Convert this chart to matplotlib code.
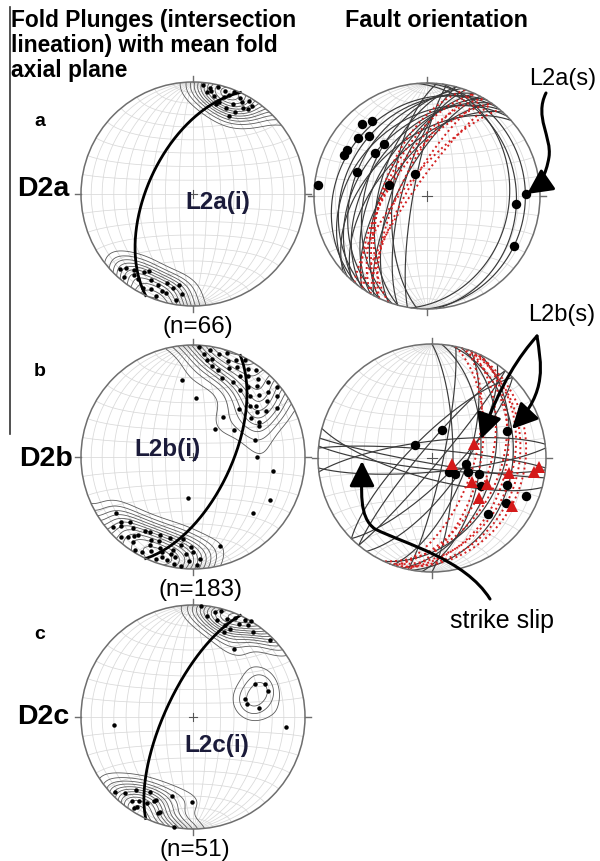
import numpy as np
import matplotlib.pyplot as plt
from matplotlib.patches import Circle, FancyArrowPatch
from matplotlib.path import Path

plt.rcParams['font.family'] = ['Liberation Sans', 'DejaVu Sans']

# ---------------- data ----------------
# lineations: (trend, plunge) in degrees ; planes: (strike, dip) right-hand rule
d2a_trend = [5, 9, 13, 17, 20, 22, 26, 28, 31, 34, 12, 16, 14, 21, 24, 27, 30, 33, 18, 8, 25, 10,
             224, 220, 216, 213, 212, 208, 204, 201, 198, 195, 192, 189, 189, 206, 210, 218, 200, 196, 186, 222]
d2a_plunge = [3, 5, 2, 4, 7, 2, 5, 8, 3, 6, 12, 16, 18, 19, 13, 19, 12, 10, 10, 9, 24, 7,
              7, 4, 12, 10, 19, 6, 8, 14, 10, 9, 15, 5, 19, 16, 22, 15, 3, 18, 11, 12]
d2a_axial = (205, 57)

d2b_trend = [3, 6, 9, 11, 14, 16, 18, 20, 22, 24, 26, 28, 30, 32, 34, 36, 38, 40, 42, 43, 45, 47, 49, 51,
             53, 55, 58, 60, 62, 65, 44, 48, 56, 35, 28, 20, 12, 8, 50, 54,
             352, 3, 37, 38, 57, 75, 90, 100, 119, 133, 187, 163,
             234, 229, 226, 222, 220, 217, 215, 213, 210, 208, 206, 204, 202, 200, 198, 196, 194, 192, 190,
             188, 187, 186, 184, 182, 180, 178, 176, 212, 219, 224, 200, 193, 207, 215, 228, 181, 197, 203, 190]
d2b_plunge = [2, 8, 4, 12, 6, 20, 3, 10, 15, 6, 12, 2, 18, 8, 14, 4, 22, 10, 16, 26, 6, 20, 12, 28,
              18, 31, 24, 14, 34, 35, 40, 32, 38, 28, 25, 26, 18, 14, 3, 8,
              31, 46, 53, 64, 54, 42, 42, 28, 22, 28, 60, 18,
              16, 6, 12, 4, 18, 13, 8, 22, 24, 4, 14, 9, 20, 3, 12, 26, 6, 16, 10,
              22, 27, 2, 14, 8, 16, 4, 10, 2, 9, 20, 15, 12, 18, 16, 15, 21, 7, 25, 3]
d2b_axial = (25, 62)

d2c_trend = [4, 8, 12, 15, 19, 19, 23, 23, 26, 28, 31, 31, 35, 45, 31, 14, 20,
             62, 65, 71, 71, 76, 82, 264, 96,
             222, 226, 213, 213, 216, 210, 208, 205, 200, 199, 195, 181, 190, 204, 218, 212]
d2c_plunge = [1, 10, 5, 2, 14, 8, 16, 4, 8, 2, 5, 0, 8, 3, 30, 12, 20,
              37, 30, 30, 49, 49, 40, 30, 18,
              10, 4, 3, 12, 8, 24, 14, 18, 10, 11, 28, 25, 0, 20, 18, 6]
d2c_axial = (205, 70)

# fault planes, D2a
fa_strike = [190, 195, 200, 205, 210, 215, 220, 225, 212, 218, 205, 198, 208, 215, 222, 195, 185, 228,
             0, 355, 8]
fa_dip = [80, 72, 65, 58, 52, 46, 40, 34, 28, 22, 35, 45, 70, 62, 55, 55, 65, 48,
          14, 22, 28]
fa_red_strike = [200, 205, 210, 215, 210, 215, 220, 205]
fa_red_dip = [58, 60, 62, 64, 76, 80, 74, 70]
la_trend = [318, 324, 310, 316, 300, 296, 310, 320, 289, 331, 286, 276, 89, 95, 120]
la_plunge = [15, 19, 21, 27, 19, 19, 40, 40, 35, 72, 61, 3, 13, 22, 12]

# fault planes, D2b
fb_strike = [96, 100, 85, 275, 263, 105, 40, 220, 45, 35, 225, 10, 15, 5, 20, 0, 12, 25]
fb_dip = [82, 86, 80, 84, 78, 75, 85, 82, 74, 68, 75, 30, 45, 55, 65, 75, 82, 38]
fb_red_strike = [20, 18, 22, 15, 25, 20, 12, 18]
fb_red_dip = [20, 25, 30, 35, 40, 48, 55, 60]
lb_trend = [20, 308, 70, 100, 130, 125, 111, 109, 120, 110, 112, 121, 135]
lb_plunge = [69, 75, 31, 65, 74, 70, 62, 54, 49, 31, 12, 25, 31]
lb_tri_trend = [71, 107, 101, 98, 95, 121, 115, 131, 121]
lb_tri_plunge = [58, 75, 32, 11, 6, 56, 46, 45, 19]

W, H = 600, 862
fig = plt.figure(figsize=(W / 100, H / 100), dpi=100)


# ---------------- equal-area (Schmidt) helpers ----------------
def dir_vec(trend, plunge):
    t = np.radians(np.asarray(trend, float))
    p = np.radians(np.asarray(plunge, float))
    return np.array([np.cos(p) * np.sin(t), np.cos(p) * np.cos(t), np.sin(p)])


def vec_xy(v):
    e, n, d = v
    p = np.arcsin(np.clip(d, -1, 1))
    t = np.arctan2(e, n)
    r = np.sqrt(2) * np.sin((np.pi / 2 - p) / 2)
    return r * np.sin(t), r * np.cos(t)


def line_xy(trend, plunge):
    return vec_xy(dir_vec(trend, plunge))


def plane_xy(strike, dip, n=240):
    s = np.radians(strike)
    d = np.radians(dip)
    a = np.linspace(0, np.pi, n)
    sv = np.array([np.sin(s), np.cos(s), 0.0])
    dv = np.array([np.cos(d) * np.sin(s + np.pi / 2), np.cos(d) * np.cos(s + np.pi / 2), np.sin(d)])
    v = np.outer(sv, np.cos(a)) + np.outer(dv, np.sin(a))
    return vec_xy(v)


def net_axes(cx, cy, R):
    pad = 1.12
    ax = fig.add_axes([(cx - pad * R) / W, 1 - (cy + pad * R) / H, 2 * pad * R / W, 2 * pad * R / H])
    ax.set_xlim(-pad, pad)
    ax.set_ylim(-pad, pad)
    ax.set_aspect('equal')
    ax.axis('off')
    gc = '#d9d9d9'
    for d in range(10, 90, 10):
        for s in (0, 180):
            x, y = plane_xy(s, d)
            ax.plot(x, y, color=gc, lw=0.55, zorder=1)
    ax.plot([0, 0], [-1, 1], color=gc, lw=0.55, zorder=1)
    phi = np.linspace(0, np.pi, 120)
    for a in range(10, 180, 10):
        al = np.radians(a)
        v = np.array([np.sin(al) * np.cos(phi), np.full_like(phi, np.cos(al)), np.sin(al) * np.sin(phi)])
        x, y = vec_xy(v)
        ax.plot(x, y, color=gc, lw=0.55, zorder=1)
    ax.add_patch(Circle((0, 0), 1, fill=False, ec='#6e6e6e', lw=1.1, zorder=6))
    for x0, y0, x1, y1 in [(0, 1, 0, 1.05), (1, 0, 1.05, 0), (0, -1, 0, -1.05), (-1, 0, -1.05, 0)]:
        ax.plot([x0, x1], [y0, y1], color='#6e6e6e', lw=1, zorder=6)
    ax.plot([-0.04, 0.04], [0, 0], color='#555', lw=0.8, zorder=6)
    ax.plot([0, 0], [-0.04, 0.04], color='#555', lw=0.8, zorder=6)
    clip = Circle((0, 0), 1, transform=ax.transData)
    return ax, clip


def contours(ax, clip, trend, plunge, k=36, nlev=11, lo=0.10):
    g = np.linspace(-1.05, 1.05, 211)
    X, Y = np.meshgrid(g, g)
    r = np.clip(np.hypot(X, Y), 0, np.sqrt(2))
    pl = 90 - 2 * np.degrees(np.arcsin(r / np.sqrt(2)))
    tr = np.degrees(np.arctan2(X, Y))
    gv = dir_vec(tr, pl)
    pv = dir_vec(trend, plunge)
    dots = np.abs(np.tensordot(pv.T, gv, axes=(1, 0)))
    dens = np.exp(k * (dots - 1)).sum(0)
    levels = np.linspace(lo, 0.95, nlev) * dens.max()
    cs = ax.contour(X, Y, dens, levels=levels, colors='#5a5a5a', linewidths=0.6, zorder=3)
    cs.set_clip_path(clip)


def fold_net(cx, cy, trend, plunge, axial, k, lo, nlev=11):
    ax, clip = net_axes(cx, cy, 112)
    contours(ax, clip, trend, plunge, k=k, lo=lo, nlev=nlev)
    x, y = plane_xy(*axial)
    ax.plot(x, y, color='black', lw=2.0, zorder=5)
    x, y = line_xy(trend, plunge)
    ax.plot(x, y, 'o', color='black', ms=3.2, mew=0, zorder=7)


def fault_net(cx, cy, R, strikes, dips, rstrikes, rdips):
    ax, clip = net_axes(cx, cy, R)
    for s, d in zip(strikes, dips):
        x, y = plane_xy(s, d)
        ax.plot(x, y, color='#3a3a3a', lw=0.85, zorder=3)
    for s, d in zip(rstrikes, rdips):
        x, y = plane_xy(s, d)
        ax.plot(x, y, color='#d42020', lw=1.4, ls=(0, (1, 1.6)), zorder=4)
    return ax


fold_net(193, 195, d2a_trend, d2a_plunge, d2a_axial, k=40, lo=0.12)
fold_net(193, 458, d2b_trend, d2b_plunge, d2b_axial, k=30, lo=0.14)
fold_net(193, 718, d2c_trend, d2c_plunge, d2c_axial, k=40, lo=0.12)

axa = fault_net(427, 197, 113, fa_strike, fa_dip, fa_red_strike, fa_red_dip)
x, y = line_xy(la_trend, la_plunge)
axa.plot(x, y, 'o', color='black', ms=6.8, mew=0, zorder=8)

axb = fault_net(432, 459, 114, fb_strike, fb_dip, fb_red_strike, fb_red_dip)
x, y = line_xy(lb_trend, lb_plunge)
axb.plot(x, y, 'o', color='black', ms=6.8, mew=0, zorder=8)
x, y = line_xy(lb_tri_trend, lb_tri_plunge)
axb.plot(x, y, '^', color='#d41a1a', ms=8.5, mew=0, zorder=9)

# ---------------- overlay: labels and arrows ----------------
ov = fig.add_axes([0, 0, 1, 1])
ov.set_xlim(0, W)
ov.set_ylim(H, 0)
ov.axis('off')

ov.plot([10, 10], [8, 435], color='#333333', lw=1.2)
ov.text(11, 9, "Fold Plunges (intersection\nlineation) with mean fold\naxial plane",
        ha='left', va='top', fontsize=16.4, fontweight='bold', linespacing=1.1)
ov.text(345, 9, "Fault orientation", ha='left', va='top', fontsize=16.8, fontweight='bold')

for lab, yy in [('a', 122), ('b', 372), ('c', 635)]:
    ov.text(40, yy, lab, ha='center', va='center', fontsize=14, fontweight='bold')
for lab, xx, yy in [('D2a', 43, 189), ('D2b', 46, 459), ('D2c', 43, 717)]:
    ov.text(xx, yy, lab, ha='center', va='center', fontsize=20.5, fontweight='bold')
for lab, xx, yy in [('L2a(i)', 218, 203), ('L2b(i)', 167, 450), ('L2c(i)', 217, 746)]:
    ov.text(xx, yy, lab, ha='center', va='center', fontsize=17.5, fontweight='bold', color='#1b1b3a')
for lab, xx, yy in [('(n=66)', 198, 327), ('(n=183)', 200, 590), ('(n=51)', 195, 850)]:
    ov.text(xx, yy, lab, ha='center', va='center', fontsize=17.5)

ov.text(563, 79, 'L2a(s)', ha='center', va='center', fontsize=17)
ov.text(562, 315, 'L2b(s)', ha='center', va='center', fontsize=17)
ov.text(502, 621, 'strike slip', ha='center', va='center', fontsize=18)


def curved_arrow(pts):
    codes = [Path.MOVETO] + [Path.CURVE4] * (len(pts) - 1)
    arr = FancyArrowPatch(path=Path(pts, codes), arrowstyle='-|>,head_length=0.7,head_width=0.35',
                          mutation_scale=22, color='black', lw=2.2, zorder=20)
    ov.add_patch(arr)


curved_arrow([(546, 94), (534, 118), (552, 138), (549, 158), (546, 176), (540, 186), (527, 195)])
curved_arrow([(537, 337), (520, 356), (500, 385), (481, 440)])
curved_arrow([(537, 337), (541, 365), (548, 392), (512, 430)])
curved_arrow([(490, 600), (465, 560), (405, 545), (375, 530), (358, 518), (362, 490), (362, 462)])

fig.savefig('out.png', dpi=100)
